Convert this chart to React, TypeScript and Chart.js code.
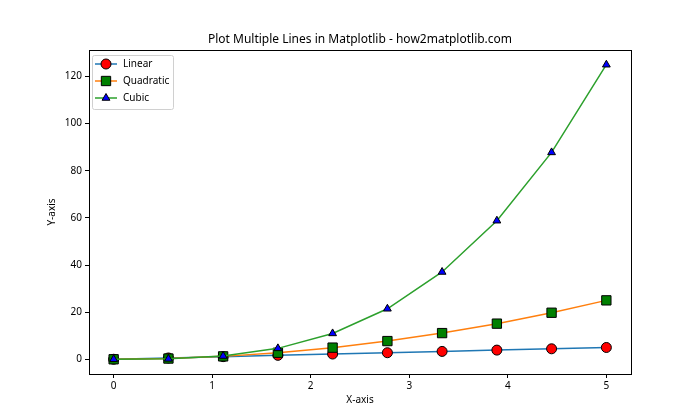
import React, { useEffect, useRef } from "react";
import { Chart, registerables } from "chart.js";

Chart.register(...registerables);

const TITLE = "Plot Multiple Lines in Matplotlib - how2matplotlib.com";
const X_TITLE = "X-axis";
const Y_TITLE = "Y-axis";

const xValues = [0, 0.556, 1.111, 1.667, 2.222, 2.778, 3.333, 3.889, 4.444, 5];
const linearValues = [0, 0.556, 1.111, 1.667, 2.222, 2.778, 3.333, 3.889, 4.444, 5];
const quadraticValues = [0, 0.31, 1.23, 2.78, 4.94, 7.72, 11.11, 15.12, 19.75, 25];
const cubicValues = [0, 0.17, 1.37, 4.63, 10.97, 21.43, 37.04, 58.8, 87.79, 125];

const xTicks = [0, 1, 2, 3, 4, 5];
const yTicks = [0, 20, 40, 60, 80, 100, 120];

const FONT = "'Noto Sans', 'DejaVu Sans', sans-serif";

const seriesNames = ["Linear", "Quadratic", "Cubic"];

export default function App() {
  const ref = useRef<HTMLCanvasElement | null>(null);

  useEffect(() => {
    if (!ref.current) return;
    const toPts = (ys: number[]) => xValues.map((x, i) => ({ x, y: ys[i] }));

    const framePlugin = {
      id: "frame",
      afterDatasetsDraw(chart: any) {
        const { ctx, chartArea } = chart;
        ctx.save();
        ctx.strokeStyle = "#000";
        ctx.lineWidth = 1;
        ctx.strokeRect(
          Math.round(chartArea.left) + 0.5,
          Math.round(chartArea.top) + 0.5,
          Math.round(chartArea.right - chartArea.left),
          Math.round(chartArea.bottom - chartArea.top)
        );
        // Title
        ctx.fillStyle = "#000";
        ctx.font = `12px ${FONT}`;
        ctx.textAlign = "center";
        ctx.textBaseline = "middle";
        ctx.fillText(TITLE, (chartArea.left + chartArea.right) / 2, 40);

        // Legend
        const bx = 92, by = 55, bw = 81, bh = 54;
        ctx.fillStyle = "rgba(255,255,255,0.8)";
        ctx.strokeStyle = "#d0d0d0";
        ctx.lineWidth = 1;
        ctx.beginPath();
        const r = 2;
        ctx.moveTo(bx + r + 0.5, by + 0.5);
        ctx.arcTo(bx + bw + 0.5, by + 0.5, bx + bw + 0.5, by + bh + 0.5, r);
        ctx.arcTo(bx + bw + 0.5, by + bh + 0.5, bx + 0.5, by + bh + 0.5, r);
        ctx.arcTo(bx + 0.5, by + bh + 0.5, bx + 0.5, by + 0.5, r);
        ctx.arcTo(bx + 0.5, by + 0.5, bx + bw + 0.5, by + 0.5, r);
        ctx.closePath();
        ctx.fill();
        ctx.stroke();

        const rows = [64, 81, 98];
        chart.data.datasets.forEach((ds: any, i: number) => {
          const y = rows[i];
          ctx.strokeStyle = ds.borderColor;
          ctx.lineWidth = 1.5;
          ctx.beginPath();
          ctx.moveTo(95, y);
          ctx.lineTo(117, y);
          ctx.stroke();
          ctx.lineWidth = 1;
          (Chart as any).helpers?.drawPoint;
          ctx.fillStyle = ds.pointBackgroundColor;
          ctx.strokeStyle = ds.pointBorderColor;
          drawMarker(ctx, ds.pointStyle, ds.pointRadius, 106, y);
          ctx.fillStyle = "#000";
          ctx.font = `10px ${FONT}`;
          ctx.textAlign = "left";
          ctx.textBaseline = "middle";
          ctx.fillText(ds.label, 123, y);
        });
        ctx.restore();
      },
    };

    function drawMarker(ctx: CanvasRenderingContext2D, style: string, radius: number, x: number, y: number) {
      ctx.beginPath();
      if (style === "circle") {
        ctx.arc(x, y, radius, 0, Math.PI * 2);
      } else if (style === "rect") {
        const s = Math.SQRT1_2 * radius;
        ctx.rect(x - s, y - s, 2 * s, 2 * s);
      } else if (style === "triangle") {
        ctx.moveTo(x, y - radius);
        ctx.lineTo(x + Math.sin(Math.PI / 3 * 2) * radius, y + radius / 2);
        ctx.lineTo(x - Math.sin(Math.PI / 3 * 2) * radius, y + radius / 2);
        ctx.closePath();
      }
      ctx.fill();
      ctx.stroke();
    }

    const chart = new Chart(ref.current, {
      type: "line",
      data: {
        datasets: [
          {
            label: seriesNames[0],
            data: toPts(linearValues),
            borderColor: "#1f77b4",
            borderWidth: 1.5,
            pointStyle: "circle",
            pointRadius: 5,
            pointBackgroundColor: "#ff0000",
            pointBorderColor: "#000",
            pointBorderWidth: 1,
            order: 3,
          } as any,
          {
            label: seriesNames[1],
            data: toPts(quadraticValues),
            borderColor: "#ff7f0e",
            borderWidth: 1.5,
            pointStyle: "rect",
            pointRadius: 6.6,
            pointBackgroundColor: "#008000",
            pointBorderColor: "#000",
            pointBorderWidth: 1,
            order: 2,
          },
          {
            label: seriesNames[2],
            data: toPts(cubicValues),
            borderColor: "#2ca02c",
            borderWidth: 1.5,
            pointStyle: "triangle",
            pointRadius: 4.5,
            pointBackgroundColor: "#0000ff",
            pointBorderColor: "#000",
            pointBorderWidth: 1,
            order: 1,
          },
        ],
      },
      options: {
        animation: false,
        responsive: false,
        layout: { padding: { left: 42, right: 69, top: 50, bottom: 10 } },
        plugins: {
          legend: { display: false },
          tooltip: { enabled: false },
          title: { display: false },
        },
        elements: { line: { tension: 0 } },
        scales: {
          x: {
            type: "linear",
            min: -0.25,
            max: 5.25,
            afterBuildTicks: (s: any) => {
              s.ticks = xTicks.map((v) => ({ value: v }));
            },
            afterFit: (s: any) => {
              s.height = 36;
            },
            ticks: {
              color: "#000",
              font: { family: FONT, size: 10 },
              padding: 2,
              maxRotation: 0,
              callback: (v: any) => String(v),
            },
            grid: {
              display: true,
              drawOnChartArea: false,
              drawTicks: true,
              tickLength: 4,
              color: "#000",
            },
            border: { display: true, color: "#000", width: 1 },
            title: {
              display: true,
              text: X_TITLE,
              color: "#000",
              font: { family: FONT, size: 10 },
              padding: { top: 0, bottom: 4 },
            },
          },
          y: {
            type: "linear",
            min: -6.25,
            max: 131.25,
            afterBuildTicks: (s: any) => {
              s.ticks = yTicks.map((v) => ({ value: v }));
            },
            afterFit: (s: any) => {
              s.width = 47;
            },
            ticks: {
              color: "#000",
              font: { family: FONT, size: 10 },
              padding: 3,
              callback: (v: any) => String(v),
            },
            grid: {
              display: true,
              drawOnChartArea: false,
              drawTicks: true,
              tickLength: 4,
              color: "#000",
            },
            border: { display: true, color: "#000", width: 1 },
            title: {
              display: true,
              text: Y_TITLE,
              color: "#000",
              font: { family: FONT, size: 10 },
              padding: { top: 4, bottom: 0 },
            },
          },
        },
      } as any,
      plugins: [framePlugin],
    });
    return () => chart.destroy();
  }, []);

  return (
    <div style={{ position: "absolute", left: 0, top: 0, width: 700, height: 420, background: "#fff" }}>
      <canvas ref={ref} width={700} height={420} />
    </div>
  );
}
